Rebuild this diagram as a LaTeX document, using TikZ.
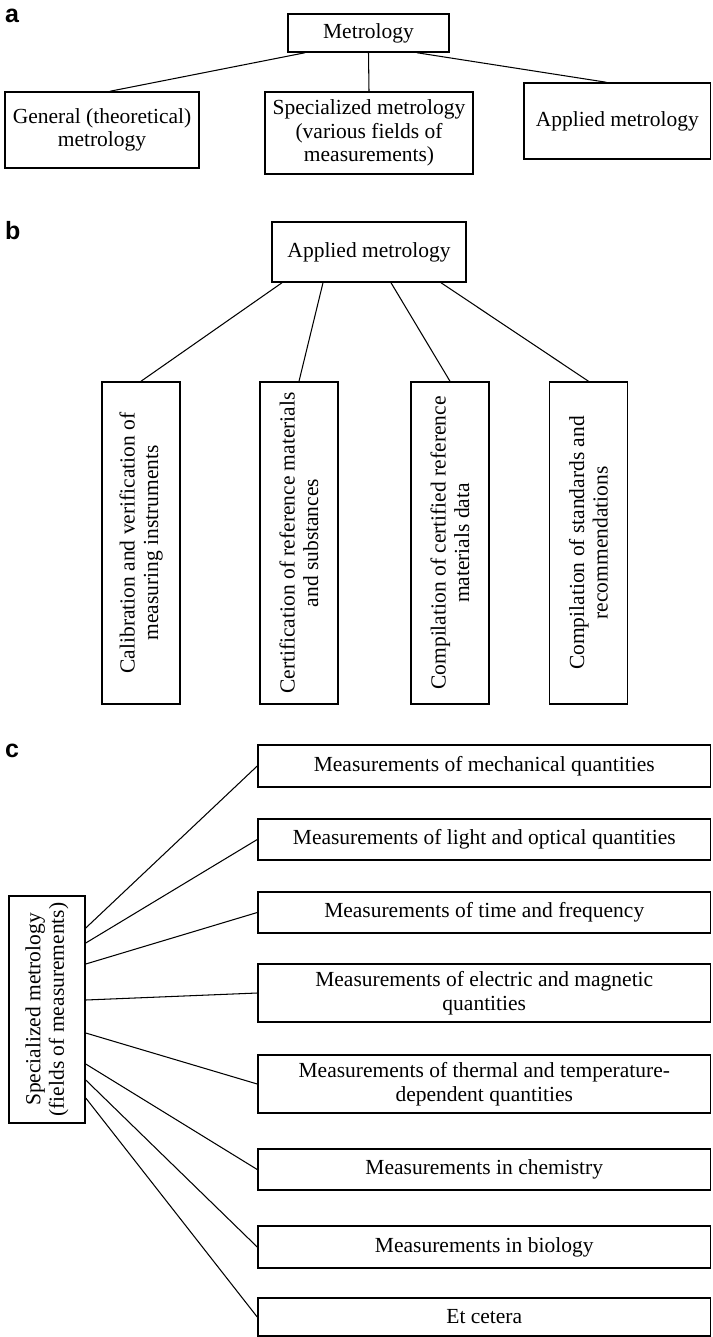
\documentclass[tikz,border=0pt]{standalone}
\usepackage{fontspec}
\setmainfont{Liberation Serif}
\newfontfamily\panelsans{Liberation Sans}
\usepackage{tikz}
\usetikzlibrary{positioning,calc}

\begin{document}
\begin{tikzpicture}[x=1pt,y=-1pt,
      box/.style={draw,line width=1.5pt,inner sep=0pt,align=center,
        font=\fontsize{21.5}{23.5}\selectfont},
      link/.style={line width=1.05pt},
      panel/.style={anchor=base west,inner sep=0pt,
        font=\panelsans\bfseries\fontsize{25}{25}\selectfont}]
    \useasboundingbox (0,0) rectangle (712,1337);
    % (a) three branches of metrology
    \node[panel] (tagA) at (5,23) {a};
    \node[box,minimum width=161,minimum height=38] (metro) at (368.5,33) {Metrology};
    \node[box,minimum width=194,minimum height=76] (gen) at (102,130)
      {General (theoretical)\\metrology};
    \node[box,minimum width=208,minimum height=82] (spec) at (369,133)
      {Specialized metrology\\(various fields of\\measurements)};
    \node[box,minimum width=186.5,minimum height=76] (appl) at (617.25,121)
      {Applied metrology};
    \draw[link] ([xshift=-63.5pt]metro.south) -- ([xshift=8pt]gen.north);
    \draw[link] (metro.south) -- (spec.north);
    \draw[link] ([xshift=48.5pt]metro.south) -- ([xshift=-11pt]appl.north);
    % (b) tasks of applied metrology, rotated boxes
    \node[panel] (tagB) at (5,240) {b};
    \node[box,minimum width=194,minimum height=60] (applB) at (369,252)
      {Applied metrology};
    \foreach \n/\x/\txt in {
        1/141/{Calibration and verification of\\measuring instruments},
        2/299/{Certification of reference materials\\and substances},
        3/450/{Compilation of certified reference\\materials data},
        4/588.5/{Compilation of standards and\\recommendations}} {
      \node[box,rotate=90,minimum width=322,minimum height=78] (task\n) at (\x,543) {\txt};
    }
    \foreach \n/\dx in {1/-87,2/-46,3/22,4/72} {
      \draw[link] ([xshift=\dx pt]applB.south) -- (task\n.east);
    }
    % (c) fields of specialized metrology
    \node[panel] (tagC) at (5,757) {c};
    \node[box,rotate=90,minimum width=227,minimum height=76] (specC) at (47,1009.5)
      {Specialized metrology\\(fields of measurements)};
    \foreach \n/\y/\h/\txt in {
        1/766/42/{Measurements of mechanical quantities},
        2/839.5/41/{Measurements of light and optical quantities},
        3/912.5/41/{Measurements of time and frequency},
        4/993/58/{Measurements of electric and magnetic\\quantities},
        5/1084/58/{Measurements of thermal and temperature-\\dependent quantities},
        6/1169.5/41/{Measurements in chemistry},
        7/1247/42/{Measurements in biology},
        8/1317/38/{Et cetera}} {
      \node[box,minimum width=452.5,minimum height=\h] (field\n) at (484.25,\y) {\txt};
    }
    % start points on the right side of the rotated box
    \foreach \n/\dy in {1/81.5,2/66.5,3/45.5,4/9.5,5/-23.5,6/-54.5,7/-70.5,8/-88.5} {
      \draw[link] ([yshift=\dy pt]specC.south) -- (field\n.west);
    }
\end{tikzpicture}
\end{document}
